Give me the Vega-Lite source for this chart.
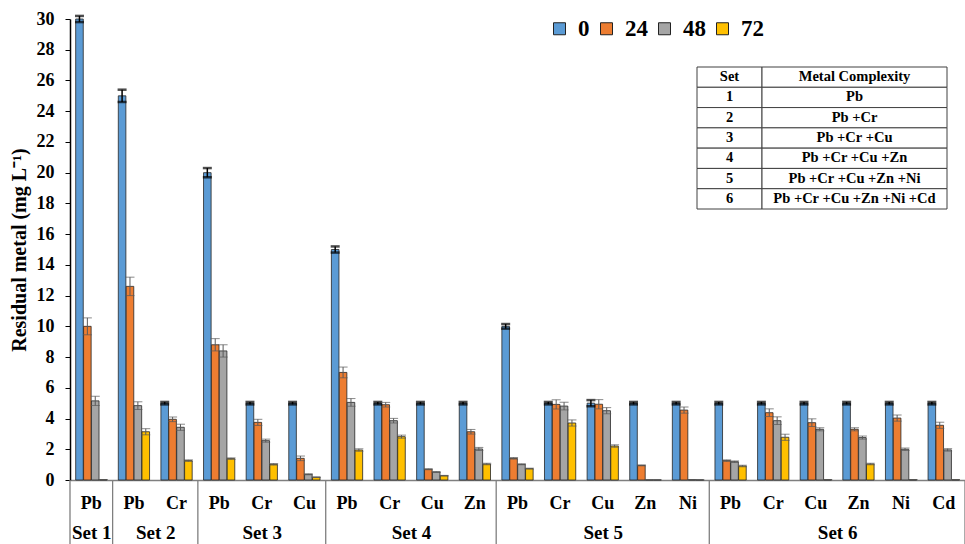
{
  "$schema": "https://vega.github.io/schema/vega-lite/v6.json",
  "width": 895,
  "height": 461,
  "autosize": {"type": "none"},
  "padding": {"left": 70, "top": 19, "right": 0, "bottom": 64},
  "background": "white",
  "config": {
    "view": {"stroke": null},
    "font": "Liberation Serif",
    "legend": {
      "orient": "none", "legendX": 478, "legendY": -2, "direction": "horizontal",
      "symbolType": "square", "symbolSize": 144, "symbolStrokeColor": "#222222", "symbolStrokeWidth": 1,
      "labelFontSize": 23, "labelFont": "Liberation Serif", "labelFontWeight": "bold", "labelColor": "black",
      "columnPadding": 5, "labelOffset": 7, "padding": 0, "symbolOpacity": 1
    }
  },
  "resolve": {"scale": {"x": "independent", "y": "independent"}, "axis": {"x": "independent", "y": "independent"}},
  "layer": [
    {
      "resolve": {"scale": {"x": "independent"}, "axis": {"x": "independent"}},
      "layer": [
        {
          "data": {"values": [
            {"g": "1 Pb", "t": "0", "v": 30, "e": 0.2}, {"g": "1 Pb", "t": "24", "v": 10.0, "e": 0.55}, {"g": "1 Pb", "t": "48", "v": 5.15, "e": 0.3}, {"g": "1 Pb", "t": "72", "v": 0.02, "e": 0},
            {"g": "2 Pb", "t": "0", "v": 25, "e": 0.4}, {"g": "2 Pb", "t": "24", "v": 12.6, "e": 0.6}, {"g": "2 Pb", "t": "48", "v": 4.84, "e": 0.25}, {"g": "2 Pb", "t": "72", "v": 3.14, "e": 0.2},
            {"g": "2 Cr", "t": "0", "v": 5, "e": 0.08}, {"g": "2 Cr", "t": "24", "v": 3.95, "e": 0.15}, {"g": "2 Cr", "t": "48", "v": 3.43, "e": 0.2}, {"g": "2 Cr", "t": "72", "v": 1.26, "e": 0.05},
            {"g": "3 Pb", "t": "0", "v": 20, "e": 0.3}, {"g": "3 Pb", "t": "24", "v": 8.8, "e": 0.4}, {"g": "3 Pb", "t": "48", "v": 8.4, "e": 0.4}, {"g": "3 Pb", "t": "72", "v": 1.39, "e": 0.05},
            {"g": "3 Cr", "t": "0", "v": 5, "e": 0.08}, {"g": "3 Cr", "t": "24", "v": 3.75, "e": 0.2}, {"g": "3 Cr", "t": "48", "v": 2.56, "e": 0.1}, {"g": "3 Cr", "t": "72", "v": 1.02, "e": 0.05},
            {"g": "3 Cu", "t": "0", "v": 5, "e": 0.08}, {"g": "3 Cu", "t": "24", "v": 1.41, "e": 0.15}, {"g": "3 Cu", "t": "48", "v": 0.37, "e": 0.03}, {"g": "3 Cu", "t": "72", "v": 0.18, "e": 0.02},
            {"g": "4 Pb", "t": "0", "v": 15, "e": 0.2}, {"g": "4 Pb", "t": "24", "v": 7.0, "e": 0.35}, {"g": "4 Pb", "t": "48", "v": 5.05, "e": 0.25}, {"g": "4 Pb", "t": "72", "v": 1.95, "e": 0.08},
            {"g": "4 Cr", "t": "0", "v": 5, "e": 0.08}, {"g": "4 Cr", "t": "24", "v": 4.9, "e": 0.15}, {"g": "4 Cr", "t": "48", "v": 3.86, "e": 0.15}, {"g": "4 Cr", "t": "72", "v": 2.82, "e": 0.1},
            {"g": "4 Cu", "t": "0", "v": 5, "e": 0.08}, {"g": "4 Cu", "t": "24", "v": 0.7, "e": 0.03}, {"g": "4 Cu", "t": "48", "v": 0.52, "e": 0.02}, {"g": "4 Cu", "t": "72", "v": 0.28, "e": 0.02},
            {"g": "4 Zn", "t": "0", "v": 5, "e": 0.08}, {"g": "4 Zn", "t": "24", "v": 3.14, "e": 0.15}, {"g": "4 Zn", "t": "48", "v": 2.02, "e": 0.1}, {"g": "4 Zn", "t": "72", "v": 1.04, "e": 0.05},
            {"g": "5 Pb", "t": "0", "v": 10, "e": 0.15}, {"g": "5 Pb", "t": "24", "v": 1.41, "e": 0.05}, {"g": "5 Pb", "t": "48", "v": 1.02, "e": 0.03}, {"g": "5 Pb", "t": "72", "v": 0.74, "e": 0.03},
            {"g": "5 Cr", "t": "0", "v": 5, "e": 0.08}, {"g": "5 Cr", "t": "24", "v": 4.92, "e": 0.3}, {"g": "5 Cr", "t": "48", "v": 4.81, "e": 0.25}, {"g": "5 Cr", "t": "72", "v": 3.71, "e": 0.2},
            {"g": "5 Cu", "t": "0", "v": 5, "e": 0.2}, {"g": "5 Cu", "t": "24", "v": 4.93, "e": 0.3}, {"g": "5 Cu", "t": "48", "v": 4.51, "e": 0.2}, {"g": "5 Cu", "t": "72", "v": 2.21, "e": 0.08},
            {"g": "5 Zn", "t": "0", "v": 5, "e": 0.08}, {"g": "5 Zn", "t": "24", "v": 0.95, "e": 0.03}, {"g": "5 Zn", "t": "48", "v": 0, "e": 0}, {"g": "5 Zn", "t": "72", "v": 0, "e": 0},
            {"g": "5 Ni", "t": "0", "v": 5, "e": 0.08}, {"g": "5 Ni", "t": "24", "v": 4.55, "e": 0.2}, {"g": "5 Ni", "t": "48", "v": 0.02, "e": 0}, {"g": "5 Ni", "t": "72", "v": 0, "e": 0},
            {"g": "6 Pb", "t": "0", "v": 5, "e": 0.08}, {"g": "6 Pb", "t": "24", "v": 1.26, "e": 0.05}, {"g": "6 Pb", "t": "48", "v": 1.19, "e": 0.05}, {"g": "6 Pb", "t": "72", "v": 0.91, "e": 0.05},
            {"g": "6 Cr", "t": "0", "v": 5, "e": 0.08}, {"g": "6 Cr", "t": "24", "v": 4.38, "e": 0.25}, {"g": "6 Cr", "t": "48", "v": 3.86, "e": 0.25}, {"g": "6 Cr", "t": "72", "v": 2.78, "e": 0.2},
            {"g": "6 Cu", "t": "0", "v": 5, "e": 0.08}, {"g": "6 Cu", "t": "24", "v": 3.73, "e": 0.25}, {"g": "6 Cu", "t": "48", "v": 3.3, "e": 0.1}, {"g": "6 Cu", "t": "72", "v": 0.02, "e": 0},
            {"g": "6 Zn", "t": "0", "v": 5, "e": 0.08}, {"g": "6 Zn", "t": "24", "v": 3.3, "e": 0.1}, {"g": "6 Zn", "t": "48", "v": 2.76, "e": 0.1}, {"g": "6 Zn", "t": "72", "v": 1.04, "e": 0.05},
            {"g": "6 Ni", "t": "0", "v": 5, "e": 0.08}, {"g": "6 Ni", "t": "24", "v": 4.03, "e": 0.2}, {"g": "6 Ni", "t": "48", "v": 2.0, "e": 0.08}, {"g": "6 Ni", "t": "72", "v": 0.02, "e": 0},
            {"g": "6 Cd", "t": "0", "v": 5, "e": 0.08}, {"g": "6 Cd", "t": "24", "v": 3.56, "e": 0.2}, {"g": "6 Cd", "t": "48", "v": 1.96, "e": 0.08}, {"g": "6 Cd", "t": "72", "v": 0.02, "e": 0}
          ]},
          "encoding": {
            "x": {
              "field": "g", "type": "nominal", "sort": null,
              "scale": {"paddingInner": 0, "paddingOuter": 0},
              "axis": {
                "title": null, "orient": "bottom", "labelExpr": "split(datum.label, ' ')[1]", "labelAngle": 0,
                "ticks": false, "domainColor": "#7f7f7f", "domainWidth": 1.5,
                "labelFontSize": 18, "labelFontWeight": "bold", "labelColor": "black", "labelPadding": 14
              }
            },
            "xOffset": {"field": "t", "type": "nominal", "sort": ["0", "24", "48", "72"], "scale": {"paddingInner": 0.04, "paddingOuter": 0.72}},
            "y": {
              "field": "v", "type": "quantitative",
              "scale": {"domain": [0, 30], "nice": false},
              "axis": {
                "values": [0, 2, 4, 6, 8, 10, 12, 14, 16, 18, 20, 22, 24, 26, 28, 30],
                "labelOverlap": false, "labelFlush": false,
                "grid": false, "domainColor": "black", "domainWidth": 1.5, "tickColor": "black", "tickSize": 5,
                "labelFontSize": 18, "labelFontWeight": "bold", "labelColor": "black", "labelPadding": 11,
                "title": "Residual metal (mg L⁻¹)", "titleFontSize": 20, "titleFontWeight": "bold", "titleColor": "black", "titlePadding": 7
              }
            }
          },
          "layer": [
            {
              "mark": {"type": "bar", "stroke": "#262626", "strokeWidth": 0.8},
              "encoding": {
                "color": {
                  "field": "t", "type": "nominal", "sort": ["0", "24", "48", "72"],
                  "scale": {"domain": ["0", "24", "48", "72"], "range": ["#5B9BD5", "#ED7D31", "#A5A5A5", "#FFC000"]},
                  "legend": {"title": null}
                }
              }
            },
            {
              "transform": [{"filter": "datum.t == '0'"}],
              "mark": {"type": "errorbar", "color": "black", "thickness": 1.5, "ticks": {"size": 9, "thickness": 2.5}},
              "encoding": {"yError": {"field": "e"}}
            },
            {
              "transform": [{"filter": "datum.t != '0'"}],
              "mark": {"type": "errorbar", "color": "#595959", "thickness": 1, "ticks": {"size": 9, "thickness": 1}},
              "encoding": {"yError": {"field": "e"}}
            }
          ]
        },
        {
          "data": {"values": [{"b": 0}, {"b": 1}, {"b": 3}, {"b": 6}, {"b": 10}, {"b": 15}, {"b": 21}]},
          "mark": {"type": "rule", "color": "#7f7f7f", "strokeWidth": 1.3, "clip": false},
          "encoding": {
            "x": {
              "field": "b", "type": "quantitative",
              "scale": {"domain": [0, 21], "nice": false, "zero": false},
              "axis": {
                "orient": "bottom", "title": null, "values": [0.5, 2, 4.5, 8, 12.5, 18],
                "labelExpr": "datum.value < 1 ? 'Set 1' : datum.value < 3 ? 'Set 2' : datum.value < 6 ? 'Set 3' : datum.value < 10 ? 'Set 4' : datum.value < 15 ? 'Set 5' : 'Set 6'",
                "ticks": false, "domain": false, "grid": false, "labelFlush": false, "labelOverlap": false,
                "labelFontSize": 19, "labelFontWeight": "bold", "labelColor": "black", "labelPadding": 43
              }
            },
            "y": {
              "datum": 0, "type": "quantitative",
              "axis": {
                "values": [0, 2, 4, 6, 8, 10, 12, 14, 16, 18, 20, 22, 24, 26, 28, 30],
                "labelOverlap": false, "labelFlush": false,
                "grid": false, "domainColor": "black", "domainWidth": 1.5, "tickColor": "black", "tickSize": 5,
                "labelFontSize": 18, "labelFontWeight": "bold", "labelColor": "black", "labelPadding": 11,
                "title": "Residual metal (mg L⁻¹)", "titleFontSize": 20, "titleFontWeight": "bold", "titleColor": "black", "titlePadding": 7
              }
            },
            "y2": {"datum": -5}
          }
        }
      ]
    },
    {
      "data": {"values": [
        {"r": "h", "s": "Set", "m": "Metal Complexity"},
        {"r": "1", "s": "1", "m": "Pb"},
        {"r": "2", "s": "2", "m": "Pb +Cr"},
        {"r": "3", "s": "3", "m": "Pb +Cr +Cu"},
        {"r": "4", "s": "4", "m": "Pb +Cr +Cu +Zn"},
        {"r": "5", "s": "5", "m": "Pb +Cr +Cu +Zn +Ni"},
        {"r": "6", "s": "6", "m": "Pb +Cr +Cu +Zn +Ni +Cd"}
      ]},
      "encoding": {
        "y": {"field": "r", "type": "nominal", "sort": null, "scale": {"range": [48, 190], "paddingInner": 0, "paddingOuter": 0}, "axis": null}
      },
      "layer": [
        {
          "mark": {"type": "rect", "fill": "white", "stroke": "#404040", "strokeWidth": 1},
          "encoding": {
            "x": {"datum": 0, "type": "quantitative", "scale": {"domain": [0, 1], "range": [627, 877], "nice": false, "zero": false}, "axis": null},
            "x2": {"datum": 0.26}
          }
        },
        {
          "mark": {"type": "rect", "fill": "white", "stroke": "#404040", "strokeWidth": 1},
          "encoding": {
            "x": {"datum": 0.26, "type": "quantitative"},
            "x2": {"datum": 1}
          }
        },
        {
          "mark": {"type": "text", "fontSize": 14.5, "fontWeight": "bold", "color": "black", "font": "Liberation Serif"},
          "encoding": {"x": {"datum": 0.13, "type": "quantitative"}, "text": {"field": "s"}}
        },
        {
          "mark": {"type": "text", "fontSize": 14.5, "fontWeight": "bold", "color": "black", "font": "Liberation Serif"},
          "encoding": {"x": {"datum": 0.63, "type": "quantitative"}, "text": {"field": "m"}}
        }
      ]
    }
  ]
}
